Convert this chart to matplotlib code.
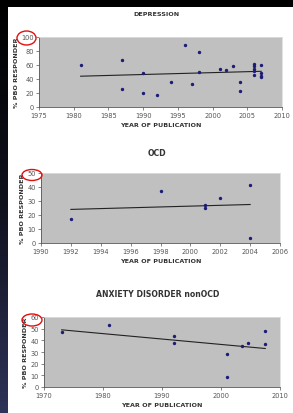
import numpy as np
import matplotlib
matplotlib.use("Agg")
import matplotlib.pyplot as plt
from matplotlib.patches import Ellipse, Rectangle
from matplotlib.colors import LinearSegmentedColormap

W, H = 293, 414

# ---- data ----
dep_years = [1981, 1987, 1987, 1990, 1990, 1992, 1994, 1996, 1997, 1998, 1998,
             2001, 2002, 2003, 2004, 2004, 2006, 2006, 2006, 2006, 2006,
             2007, 2007, 2007, 2007]
dep_vals = [60, 67, 26, 49, 20, 17, 36, 89, 33, 79, 50,
            54, 53, 59, 36, 23, 61, 58, 55, 51, 46,
            60, 49, 45, 43]
dep_trend_x = [1981, 2007]
dep_trend_y = [44, 51]

ocd_years = [1992, 1998, 2001, 2001, 2002, 2004, 2004]
ocd_vals = [17, 37, 27, 25, 32, 41.5, 3.5]
ocd_trend_x = [1992, 2004]
ocd_trend_y = [24, 27.5]

anx_years = [1973, 1981, 1992, 1992, 2001, 2001, 2003.5, 2004.5, 2007.5, 2007.5]
anx_vals = [47, 53, 44, 38, 28.5, 8.5, 35, 38, 48, 37]
anx_trend_x = [1973, 2007.5]
anx_trend_y = [49, 33]

panels = [
    dict(title="DEPRESSION", tfs=4.6, x=dep_years, y=dep_vals, tx=dep_trend_x, ty=dep_trend_y,
         xlim=(1975, 2010), xticks=list(range(1975, 2011, 5)), ylim=(0, 100),
         yticks=list(range(0, 101, 20)), ytl=[str(v) for v in range(0, 101, 20)],
         box=(39, 38, 282, 108), title_y=14, circ=(26.5, 39, 19, 14)),
    dict(title="OCD", tfs=5.6, x=ocd_years, y=ocd_vals, tx=ocd_trend_x, ty=ocd_trend_y,
         xlim=(1990, 2006), xticks=list(range(1990, 2007, 2)), ylim=(0, 50),
         yticks=list(range(0, 51, 10)), ytl=["0", "10", "20", "30", "40", "50"],
         box=(41, 174, 280, 244), title_y=154, circ=(32, 176, 20, 11)),
    dict(title="ANXIETY DISORDER nonOCD", tfs=5.6, x=anx_years, y=anx_vals, tx=anx_trend_x,
         ty=anx_trend_y,
         xlim=(1970, 2010), xticks=list(range(1970, 2011, 10)), ylim=(0, 60),
         yticks=list(range(0, 61, 10)), ytl=[str(v) for v in range(0, 61, 10)],
         box=(44, 318, 280, 388), title_y=295, circ=(32, 321, 20, 12)),
]

fig = plt.figure(figsize=(W / 100, H / 100), dpi=100)
fig.patch.set_facecolor("white")

# dark borders (top band, left strip)
fig.patches.append(Rectangle((0, 1 - 8 / H), 1, 8 / H, transform=fig.transFigure,
                             facecolor="black", edgecolor="none", zorder=0))
grad = np.linspace(0, 1, 256).reshape(-1, 1)
cmap = LinearSegmentedColormap.from_list("strip", ["#000000", "#10121e", "#2e3358"])
sax = fig.add_axes([0, 0, 7 / W, 1])
sax.imshow(grad, aspect="auto", cmap=cmap, extent=[0, 1, 0, 1], origin="upper")
sax.set_axis_off()


def fx(px):
    return px / W


def fy(py):
    return 1 - py / H


for p in panels:
    x0, y0, x1, y1 = p["box"]
    ax = fig.add_axes([fx(x0), fy(y1), fx(x1) - fx(x0), (y1 - y0) / H])
    ax.set_facecolor("#c0c0c0")
    ax.scatter(p["x"], p["y"], s=6, color="#1c1c78", zorder=3, linewidths=0)
    ax.plot(p["tx"], p["ty"], color="#222222", lw=0.8, zorder=2)
    ax.set_xlim(*p["xlim"])
    ax.set_ylim(*p["ylim"])
    ax.set_xticks(p["xticks"])
    ax.set_xticklabels([str(v) for v in p["xticks"]], fontsize=4.8, color="#555555")
    ax.set_yticks(p["yticks"])
    ax.set_yticklabels(p["ytl"], fontsize=4.8, color="#555555")
    ax.tick_params(length=2, width=0.5, pad=1.5, colors="#555555")
    for s in ["top", "right"]:
        ax.spines[s].set_color("#dddddd")
        ax.spines[s].set_linewidth(0.6)
    for s in ["left", "bottom"]:
        ax.spines[s].set_color("#555555")
        ax.spines[s].set_linewidth(0.6)
    ax.set_xlabel("YEAR OF PUBLICATION", fontsize=4.6, fontweight="bold",
                  color="#333333", labelpad=3)
    ax.set_ylabel("% PBO RESPONDER", fontsize=4.6, fontweight="bold",
                  color="#333333", labelpad=2)
    fig.text(fx((x0 + x1) / 2 - 4), fy(p["title_y"]), p["title"], ha="center", va="center",
             fontsize=p["tfs"], fontweight="bold", color="#333333")
    cx, cy, cw, chh = p["circ"]
    fig.patches.append(Ellipse((fx(cx), fy(cy)), cw / W, chh / H, transform=fig.transFigure,
                               fill=False, edgecolor="#e01010", lw=1.0, zorder=10))

fig.savefig("out.png", dpi=100, facecolor=fig.get_facecolor())
